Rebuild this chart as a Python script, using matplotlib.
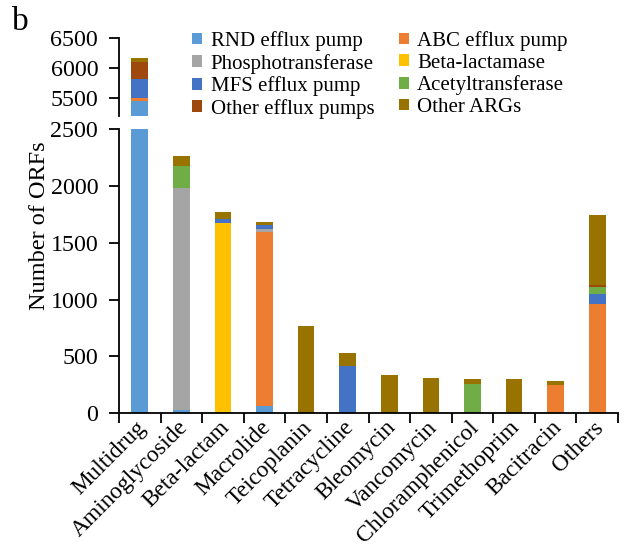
import matplotlib
matplotlib.use("Agg")
import matplotlib.pyplot as plt
import matplotlib.transforms as mtransforms
import numpy as np

plt.rcParams["font.family"] = ["Liberation Serif", "DejaVu Serif"]

categories = ["Multidrug", "Aminoglycoside", "Beta-lactam", "Macrolide", "Teicoplanin",
              "Tetracycline", "Bleomycin", "Vancomycin", "Chloramphenicol",
              "Trimethoprim", "Bacitracin", "Others"]

# stacked from bottom to top
rnd_efflux     = [5440,   27,    0,   64,   0,   0,   0,   0,   0,   0,   0,    0]
abc_efflux     = [  55,    0,    0, 1530,   0,   0,   0,   0,   0,   0, 249,  961]
phosphotrans   = [   0, 1954,    0,   27,   0,   0,   0,   0,   0,   0,   0,    0]
beta_lactamase = [   0,    0, 1671,    0,   0,   0,   0,   0,   0,   0,   0,    0]
mfs_efflux     = [ 315,    0,   35,   32,   0, 419,   0,   0,  10,   0,   0,   88]
acetyltrans    = [   0,  196,    0,    0,   0,   0,   0,   0, 245,   0,   0,   64]
other_efflux   = [ 290,    0,    0,    0,   0,   0,   0,   0,   0,   0,   0,   15]
other_args     = [  75,   88,   62,   32, 770, 111, 334, 308,  47, 299,  35,  616]

series = [
    ("RND efflux pump", rnd_efflux, "#5B9BD5"),
    ("ABC efflux pump", abc_efflux, "#ED7D31"),
    ("Phosphotransferase", phosphotrans, "#A5A5A5"),
    ("Beta-lactamase", beta_lactamase, "#FFC000"),
    ("MFS efflux pump", mfs_efflux, "#4472C4"),
    ("Acetyltransferase", acetyltrans, "#70AD47"),
    ("Other efflux pumps", other_efflux, "#9E480E"),
    ("Other ARGs", other_args, "#997300"),
]

W, H = 630, 549
fig = plt.figure(figsize=(W / 100, H / 100), dpi=100)

left, right = 119 / W, 618 / W
ax_lo = fig.add_axes([left, 1 - 413.3 / H, right - left, (413.3 - 129) / H])
ax_hi = fig.add_axes([left, 1 - 115.5 / H, right - left, (115.5 - 38.3) / H])

x = np.arange(len(categories))
handles = {}
for ax in (ax_lo, ax_hi):
    bottom = np.zeros(len(categories))
    for name, vals, col in series:
        vals = np.array(vals, dtype=float)
        b = ax.bar(x, vals, 0.4, bottom=bottom, color=col, edgecolor="none")
        handles[name] = b
        bottom += vals
    ax.set_xlim(-0.5, len(categories) - 0.5)
    for s in ("top", "right"):
        ax.spines[s].set_visible(False)
    ax.spines["left"].set_linewidth(1.3)
    ax.tick_params(axis="y", direction="out", length=7, width=1.3, pad=8, labelsize=17.3)

ax_lo.set_ylim(0, 2500)
ax_lo.set_yticks([0, 500, 1000, 1500, 2000, 2500])
ax_lo.spines["bottom"].set_linewidth(1.3)
ax_lo.set_xticks(x)
ax_lo.set_xticklabels(categories, rotation=45, ha="right", va="center",
                      rotation_mode="anchor", fontsize=16.8)
ax_lo.tick_params(axis="x", which="major", length=0, pad=8)
shift = mtransforms.ScaledTranslation(3 / 100, 0, fig.dpi_scale_trans)
for lbl in ax_lo.get_xticklabels():
    lbl.set_transform(lbl.get_transform() + shift)
ax_lo.set_xticks(np.arange(-0.5, len(categories)), minor=True)
ax_lo.tick_params(axis="x", which="minor", direction="out", length=7, width=1.3)

ax_hi.set_ylim(5200, 6500)
ax_hi.set_yticks([5500, 6000, 6500])
ax_hi.spines["bottom"].set_visible(False)
ax_hi.set_xticks([])

fig.text(40 / W, 1 - 226 / H, "Number of ORFs", rotation=90, ha="center", va="center", fontsize=17.5)
fig.text(12 / W, 1 - 6 / H, "b", ha="left", va="top", fontsize=24)

order = ["RND efflux pump", "Phosphotransferase", "MFS efflux pump", "Other efflux pumps",
         "ABC efflux pump", "Beta-lactamase", "Acetyltransferase", "Other ARGs"]
fig.legend([handles[n] for n in order], order, loc="upper left",
           bbox_to_anchor=(192 / W, 1 - 31 / H), ncol=2, frameon=False, fontsize=15,
           handlelength=0.5, handleheight=0.5, handletextpad=0.4, columnspacing=1.16,
           labelspacing=0.13, borderpad=0, borderaxespad=0)

fig.savefig("out.png", dpi=100)
